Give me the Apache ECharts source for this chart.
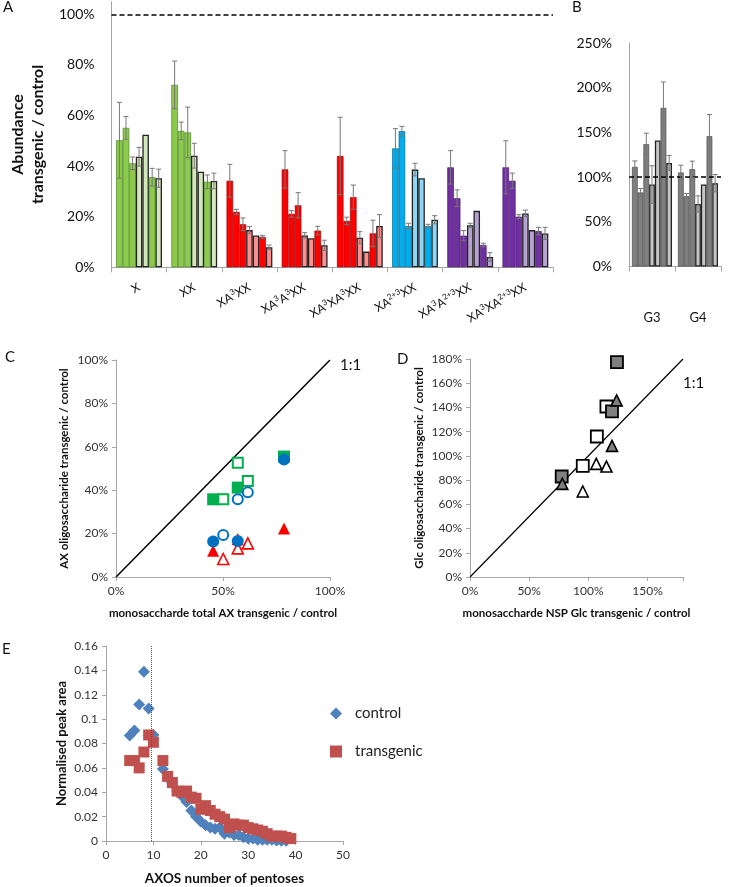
<!DOCTYPE html>
<html>
<head>
<meta charset="utf-8">
<script src="https://cdn.jsdelivr.net/npm/echarts@6/dist/echarts.min.js"></script>
<style>
html, body { margin: 0; padding: 0; background: #fff; }
#main { width: 730px; height: 887px; }
</style>
</head>
<body>
<div id="main"></div>
<script>
// ---- A: abundance transgenic / control (7 bars per oligosaccharide)
var aGroups = ['X', 'XX', 'XA{s|3}XX', 'XA{s|3}A{s|3}XX', 'XA{s|3}XA{s|3}XX', 'XA{s|2+3}XX', 'XA{s|3}A{s|2+3}XX', 'XA{s|3}XA{s|2+3}XX'];
var aX        = [50.2, 55.1, 41.1, 43.7, 52.4, 35.6, 35.2];
var aXErr     = [15.0, 4.5, 2.5, 3.7, 0, 3.5, 3.6];
var aXX       = [72.1, 53.9, 53.3, 44.1, 37.8, 33.8, 34.1];
var aXXErr    = [9.4, 3.5, 10.0, 4.9, 0, 2.7, 3.1];
var aA3       = [34.2, 21.9, 17.0, 14.7, 12.6, 12.0, 7.9];
var aA3Err    = [6.5, 1.0, 2.5, 1.4, 0, 0.5, 0.9];
var aA3A3     = [38.7, 21.1, 24.5, 12.6, 11.5, 14.5, 8.7];
var aA3A3Err  = [7.4, 1.3, 5.0, 1.1, 0, 1.7, 2.0];
var aA3XA3    = [44.0, 18.3, 27.7, 11.7, 6.2, 13.4, 16.3];
var aA3XA3Err = [15.3, 1.5, 4.8, 2.4, 0, 5.2, 4.5];
var aA23      = [47.0, 53.8, 16.3, 38.6, 35.2, 16.3, 18.8];
var aA23Err   = [7.8, 1.9, 1.1, 2.5, 0, 0.7, 1.6];
var aA3A23    = [39.5, 27.3, 12.5, 16.6, 22.3, 8.8, 4.1];
var aA3A23Err = [6.6, 3.3, 2.0, 0.8, 0, 0.7, 1.7];
var aA3XA23   = [39.5, 34.2, 20.0, 21.3, 14.7, 14.3, 13.4];
var aA3XA23Err= [10.5, 3.0, 0.8, 1.3, 0, 1.5, 2.4];

// ---- B: glucan oligosaccharides
var bGroups = ['G3', 'G4'];
var bG3    = [111.4, 82.8, 136.8, 91.7, 140.9, 177.4, 115.9];
var bG3Err = [6.7, 4.4, 12.3, 21.0, 0, 29.0, 8.3];
var bG4    = [105.1, 78.6, 108.8, 70.0, 91.7, 145.7, 93.2];
var bG4Err = [8.2, 3.0, 9.0, 9.0, 0, 24.3, 9.7];

// ---- C: AX oligo vs monosaccharide AX
var cGreenFilled = [[45.4, 35.8], [56.9, 41.2], [78.5, 55.5]];
var cGreenOpen   = [[50.1, 35.8], [56.9, 52.7], [61.6, 44.2]];
var cRedFilled   = [[45.4, 12.1], [56.9, 17.5], [78.5, 22.3]];
var cRedOpen     = [[50.1, 8.3], [56.9, 13.2], [61.6, 15.5]];
var cBlueFilled  = [[45.4, 16.4], [56.9, 16.6], [78.5, 54.2]];
var cBlueOpen    = [[50.1, 19.4], [56.9, 35.8], [61.6, 39.0]];
var cIdentity    = [[0, 0], [100, 100]];

// ---- D: Glc oligo vs NSP Glc
var dSqOpen    = [[115.3, 140.8], [107.2, 116.0], [95.3, 91.8]];
var dSqFilled  = [[124.2, 177.5], [120.0, 136.7], [77.5, 83.0]];
var dTriOpen   = [[106.7, 93.4], [115.3, 91.2], [95.3, 70.6]];
var dTriFilled = [[123.9, 145.8], [120.0, 108.3], [78.0, 76.9]];
var dIdentity  = [[0, 0], [180, 180]];

// ---- E: AXOS size distribution
var eControlX = [5, 6, 7, 8, 9, 10, 12, 13, 14, 15, 16, 17, 18, 19, 20, 21, 22, 23, 24, 25, 26, 27, 28, 29, 30, 31, 32, 33, 34, 35, 36, 37, 38];
var eControlY = [0.0865, 0.0906, 0.112, 0.1388, 0.1088, 0.087, 0.059, 0.052, 0.047, 0.041, 0.037, 0.032, 0.025, 0.020, 0.016, 0.013, 0.011, 0.010, 0.011, 0.006, 0.007, 0.005, 0.005, 0.003, 0.002, 0.002, 0.001, 0.001, 0.001, 0.001, 0.0005, 0.0003, 0.0002];
var eTransX = [5, 6, 7, 8, 9, 10, 12, 13, 14, 15, 16, 17, 18, 19, 20, 21, 22, 23, 24, 25, 26, 27, 28, 29, 30, 31, 32, 33, 34, 35, 36, 37, 38, 39];
var eTransY = [0.066, 0.066, 0.060, 0.073, 0.087, 0.081, 0.066, 0.053, 0.048, 0.041, 0.040, 0.041, 0.036, 0.035, 0.026, 0.029, 0.025, 0.022, 0.020, 0.018, 0.011, 0.014, 0.013, 0.013, 0.011, 0.010, 0.009, 0.008, 0.006, 0.004, 0.004, 0.004, 0.003, 0.002];
var eCutoff = 9.6;

var aVals = [aX, aXX, aA3, aA3A3, aA3XA3, aA23, aA3A23, aA3XA23];
var aErrs = [aXErr, aXXErr, aA3Err, aA3A3Err, aA3XA3Err, aA23Err, aA3A23Err, aA3XA23Err];
var bVals = [bG3, bG4];
var bErrs = [bG3Err, bG4Err];

var aDark  = ['#8CC94C', '#8CC94C', '#FF0000', '#FF0000', '#FF0000', '#00ADEF', '#7030A0', '#7030A0'];
var aLight = ['#D3E8BA', '#D3E8BA', '#FF8E8E', '#FF8E8E', '#FF8E8E', '#8ED8F6', '#B6A1D3', '#B6A1D3'];
var aEdge  = ['#4C8A22', '#4C8A22', '#A00000', '#A00000', '#A00000', '#0A6E96', '#4A1A70', '#4A1A70'];
var lightPos = [3, 4, 6];
var FONT = 'Lato';
var AX_GRAY = '#a6a6a6';

function errRender(pos, n, gap) {
  return function (params, api) {
    var err = api.value(2);
    if (!err) return null;
    var cat = api.value(0), v = api.value(1);
    var band = api.size([1, 0])[0];
    var w = band * (1 - gap) / n;
    var x = api.coord([cat, v])[0] + (pos - (n - 1) / 2) * w;
    var top = api.coord([cat, v + err])[1];
    var bot = api.coord([cat, v - err])[1];
    var st = { stroke: '#777', lineWidth: 1 };
    return { type: 'group', children: [
      { type: 'line', shape: { x1: x, y1: top, x2: x, y2: bot }, style: st },
      { type: 'line', shape: { x1: x - 2.5, y1: top, x2: x + 2.5, y2: top }, style: st },
      { type: 'line', shape: { x1: x - 2.5, y1: bot, x2: x + 2.5, y2: bot }, style: st }
    ]};
  };
}

var series = [];
var A_GAP = 0.17, B_GAP = 0.13;

for (var i = 0; i < 7; i++) {
  var light = lightPos.indexOf(i) >= 0;
  series.push({
    type: 'bar', xAxisIndex: 0, yAxisIndex: 0,
    barGap: '0%', barCategoryGap: (A_GAP * 100) + '%',
    data: aVals.map(function (g, k) {
      return { value: g[i], itemStyle: {
        color: light ? aLight[k] : aDark[k],
        borderColor: light ? '#222' : aEdge[k],
        borderWidth: light ? 1.3 : 0.7 } };
    }),
    markLine: i === 0 ? { silent: true, symbol: 'none', label: { show: false },
      lineStyle: { color: '#000', type: [5, 3], width: 1.5 }, data: [{ yAxis: 100 }] } : undefined
  });
  series.push({
    type: 'bar', xAxisIndex: 1, yAxisIndex: 1,
    barGap: '0%', barCategoryGap: (B_GAP * 100) + '%',
    data: bVals.map(function (g) {
      return { value: g[i], itemStyle: {
        color: light ? '#C6C6C6' : '#7F7F7F',
        borderColor: light ? '#222' : '#4a4a4a',
        borderWidth: light ? 1.3 : 0.7 } };
    }),
    markLine: i === 0 ? { silent: true, symbol: 'none', label: { show: false },
      lineStyle: { color: '#000', type: [5, 3], width: 1.5 }, data: [{ yAxis: 100 }] } : undefined
  });
}
for (var j = 0; j < 7; j++) {
  series.push({
    type: 'custom', xAxisIndex: 0, yAxisIndex: 0, z: 5,
    renderItem: errRender(j, 7, A_GAP),
    data: aVals.map(function (g, k) { return [k, g[j], aErrs[k][j]]; })
  });
  series.push({
    type: 'custom', xAxisIndex: 1, yAxisIndex: 1, z: 5,
    renderItem: errRender(j, 7, B_GAP),
    data: bVals.map(function (g, k) { return [k, g[j], bErrs[k][j]]; })
  });
}

function sc(xi, data, symbol, size, fill, stroke, bw) {
  return { type: 'scatter', xAxisIndex: xi, yAxisIndex: xi, data: data, symbol: symbol, symbolSize: size,
    itemStyle: { color: fill, borderColor: stroke, borderWidth: bw, opacity: 1 } };
}
function diag(xi, data, w) {
  return { type: 'line', xAxisIndex: xi, yAxisIndex: xi, data: data, symbol: 'none',
    lineStyle: { color: '#000', width: w }, silent: true, z: 1 };
}

// C
series.push(diag(2, cIdentity, 1.5));
series.push(sc(2, cGreenOpen, 'rect', 10, '#fff', '#00B050', 2));
series.push(sc(2, cGreenFilled, 'rect', 12, '#00B050', '#00B050', 0));
series.push(sc(2, cRedOpen, 'triangle', 11, '#fff', '#FF0000', 1.6));
series.push(sc(2, cRedFilled, 'triangle', 12, '#FF0000', '#FF0000', 0));
series.push(sc(2, cBlueOpen, 'circle', 10, '#fff', '#0070C0', 2));
series.push(sc(2, cBlueFilled, 'circle', 12, '#0070C0', '#0070C0', 0));
// D
series.push(diag(3, dIdentity, 1.2));
series.push(sc(3, dSqOpen, 'rect', 12, '#fff', '#000', 1.8));
series.push(sc(3, dSqFilled, 'rect', 12, '#808080', '#000', 1.8));
series.push(sc(3, dTriOpen, 'triangle', 11, '#fff', '#000', 1.6));
series.push(sc(3, dTriFilled, 'triangle', 11, '#808080', '#000', 1.6));
// E
var eCtrl = sc(4, eControlX.map(function (x, k) { return [x, eControlY[k]]; }), 'diamond', 12, '#4F81BD', '#4F81BD', 0);
eCtrl.name = 'control';
eCtrl.markLine = { silent: true, symbol: 'none', label: { show: false },
  lineStyle: { color: '#555', type: 'dotted', width: 1 }, data: [{ xAxis: eCutoff }] };
var eTr = sc(4, eTransX.map(function (x, k) { return [x, eTransY[k]]; }), 'rect', 11, '#C0504D', '#C0504D', 0);
eTr.name = 'transgenic';
series.push(eCtrl, eTr);

function valAxis(gi, min, max, interval, fmt, extra) {
  var o = {
    gridIndex: gi, type: 'value', min: min, max: max, interval: interval,
    splitLine: { show: false },
    axisLine: { show: true, lineStyle: { color: AX_GRAY } },
    axisTick: { show: true, length: 4, lineStyle: { color: AX_GRAY } },
    axisLabel: { formatter: fmt, fontFamily: FONT, fontSize: 12, color: '#333', margin: 8 }
  };
  for (var k in extra) o[k] = extra[k];
  return o;
}
var pct = function (step) { return function (v) { return Math.abs(v % step) < 1e-6 ? v + '%' : ''; }; };
var nameStyle = function (size) { return { fontFamily: FONT, fontWeight: 'bold', fontSize: size, color: '#111' }; };

var option = {
  animation: false,
  backgroundColor: '#fff',
  grid: [
    { left: 99, top: 1.6, width: 454, height: 265.7 },
    { left: 629, top: 43, width: 92, height: 223.5 },
    { left: 116, top: 360, width: 214, height: 217 },
    { left: 470, top: 359, width: 213, height: 218 },
    { left: 106, top: 646, width: 237, height: 196 }
  ],
  legend: {
    data: ['control', 'transgenic'], orient: 'vertical', left: 325, top: 701,
    itemGap: 23, itemWidth: 12, itemHeight: 12,
    textStyle: { fontFamily: FONT, fontSize: 15, color: '#222', padding: [0, 0, 0, 8] }
  },
  xAxis: [
    { gridIndex: 0, type: 'category', data: aGroups,
      axisLine: { lineStyle: { color: AX_GRAY } },
      axisTick: { show: true, length: 5, lineStyle: { color: AX_GRAY } },
      axisLabel: { rotate: 30, margin: 19, interval: 0, fontFamily: FONT, fontSize: 12, lineHeight: 15, color: '#111',
        rich: { s: { fontFamily: FONT, fontSize: 8, lineHeight: 8, verticalAlign: 'top', color: '#111' } } } },
    { gridIndex: 1, type: 'category', data: bGroups,
      axisLine: { lineStyle: { color: AX_GRAY } },
      axisTick: { show: true, length: 5, lineStyle: { color: AX_GRAY } },
      axisLabel: { margin: 45, fontFamily: FONT, fontSize: 13, color: '#111' } },
    valAxis(2, 0, 100, 50, pct(50), {
      name: 'monosaccharde total AX transgenic / control', nameLocation: 'middle', nameGap: 30,
      nameTextStyle: nameStyle(11.5) }),
    valAxis(3, 0, 180, 50, pct(50), {
      name: 'monosaccharde NSP Glc transgenic / control', nameLocation: 'middle', nameGap: 30,
      nameTextStyle: nameStyle(11.5) }),
    valAxis(4, 0, 50, 10, function (v) { return v; }, {
      name: 'AXOS number of pentoses', nameLocation: 'middle', nameGap: 31,
      nameTextStyle: nameStyle(13.5) })
  ],
  yAxis: [
    { gridIndex: 0, type: 'value', min: 0, max: 105, interval: 20,
      splitLine: { show: false }, axisTick: { show: false },
      axisLine: { show: true, lineStyle: { color: AX_GRAY } },
      axisLabel: { formatter: pct(20), margin: 17, fontFamily: FONT, fontSize: 14, color: '#111' },
      name: 'Abundance\ntransgenic / control', nameLocation: 'middle', nameGap: 58,
      nameTextStyle: { fontFamily: FONT, fontWeight: 'bold', fontSize: 16, lineHeight: 20, color: '#111' } },
    { gridIndex: 1, type: 'value', min: 0, max: 250, interval: 50,
      splitLine: { show: false }, axisTick: { show: false },
      axisLine: { show: true, lineStyle: { color: AX_GRAY } },
      axisLabel: { formatter: pct(50), margin: 17, fontFamily: FONT, fontSize: 14, color: '#111' } },
    valAxis(2, 0, 100, 20, pct(20), {
      name: 'AX oligosaccharide transgenic / control', nameLocation: 'middle', nameGap: 46,
      nameTextStyle: nameStyle(11.5) }),
    valAxis(3, 0, 180, 20, pct(20), {
      name: 'Glc oligosaccharide transgenic / control', nameLocation: 'middle', nameGap: 45,
      nameTextStyle: nameStyle(11.5) }),
    valAxis(4, 0, 0.16, 0.02, function (v) { return String(+v.toFixed(2)); }, {
      name: 'Normalised peak area', nameLocation: 'middle', nameGap: 38,
      nameTextStyle: nameStyle(13) })
  ],
  graphic: [
    { type: 'text', left: 3, top: 0, style: { text: 'A', font: '15px Lato', fill: '#111' } },
    { type: 'text', left: 572, top: 0, style: { text: 'B', font: '15px Lato', fill: '#111' } },
    { type: 'text', left: 5, top: 350, style: { text: 'C', font: '15px Lato', fill: '#111' } },
    { type: 'text', left: 397, top: 352, style: { text: 'D', font: '15px Lato', fill: '#111' } },
    { type: 'text', left: 2, top: 642, style: { text: 'E', font: '15px Lato', fill: '#111' } },
    { type: 'text', left: 340, top: 358, style: { text: '1:1', font: '15px Lato', fill: '#111' } },
    { type: 'text', left: 683, top: 376, style: { text: '1:1', font: '15px Lato', fill: '#111' } }
  ],
  series: series
};

var chart = echarts.init(document.getElementById('main'), null, { renderer: 'canvas' });
chart.setOption(option);
</script>
</body>
</html>
